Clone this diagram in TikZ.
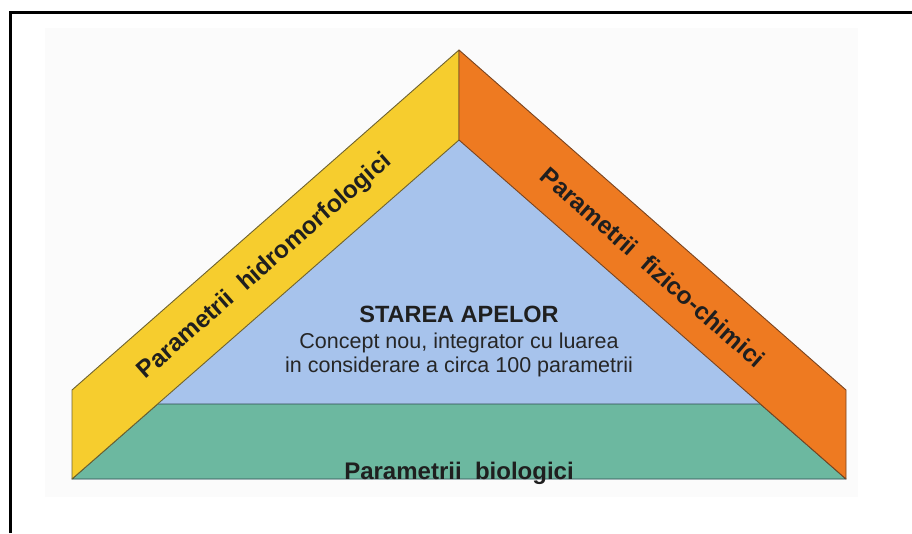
\documentclass[tikz,border=0pt]{standalone}
\usepackage{fontspec}
\setmainfont{Liberation Sans}
\definecolor{yel}{HTML}{F6CD2E}
\definecolor{org}{HTML}{EE7A21}
\definecolor{blu}{HTML}{A7C3EC}
\definecolor{grn}{HTML}{6CB8A0}
\definecolor{bgg}{HTML}{FBFBFB}
\definecolor{yedge}{HTML}{6E6230}
\definecolor{oedge}{HTML}{7A4420}
\definecolor{gedge}{HTML}{2F4A50}
\begin{document}
\begin{tikzpicture}[x=1pt,y=-1pt,
  band/.style={line width=0.9pt, line join=round},
  lbl/.style={inner sep=0pt, font=\fontsize{24}{28}\selectfont\bfseries, text=black!88},
  side/.style={inner sep=0pt, font=\fontsize{24.5}{28}\selectfont\bfseries, text=black!88},
  body/.style={inner sep=0pt, font=\fontsize{21.5}{24}\selectfont, text=black!85}]
\useasboundingbox (0,0) rectangle (912,533);
\fill[bgg] (45,28) rectangle (858,497);
\coordinate (A) at (459,50);
\coordinate (I) at (459,140);
\coordinate (BL) at (72,479);
\coordinate (BR) at (846,479);
\coordinate (LT) at (72,390);
\coordinate (RT) at (846,390);
\coordinate (GL) at (157.6,404);
\coordinate (GR) at (760.4,404);
% blue triangle
\fill[blu] (I) -- (BL) -- (BR) -- cycle;
% green base
\filldraw[fill=grn, draw=gedge, band] (BL) -- (BR) -- (GR) -- (GL) -- cycle;
% yellow band
\filldraw[fill=yel, draw=yedge, band] (A) -- (I) -- (BL) -- (LT) -- cycle;
% orange band
\filldraw[fill=org, draw=oedge, band] (A) -- (RT) -- (BR) -- (I) -- cycle;
% frame
\draw[line width=3pt] (10,533) -- (10,12.5) -- (912,12.5);
% labels
\node[side, rotate=41.3] (hidro) at (265,267) {Parametrii~~hidromorfologici};
\node[side, rotate=-41.3] (fizico) at (653,267) {Parametrii~~fizico-chimici};
\node[lbl, anchor=base, font=\fontsize{23.5}{28}\selectfont\bfseries] (stare) at (459,322) {STAREA APELOR};
\node[body, anchor=base] (concept) at (459,348) {Concept nou, integrator cu luarea};
\node[body, anchor=base] (consid) at (459,372) {in considerare a circa 100 parametrii};
\node[lbl, anchor=base] (bio) at (459,479) {Parametrii~~biologici};
\end{tikzpicture}
\end{document}
